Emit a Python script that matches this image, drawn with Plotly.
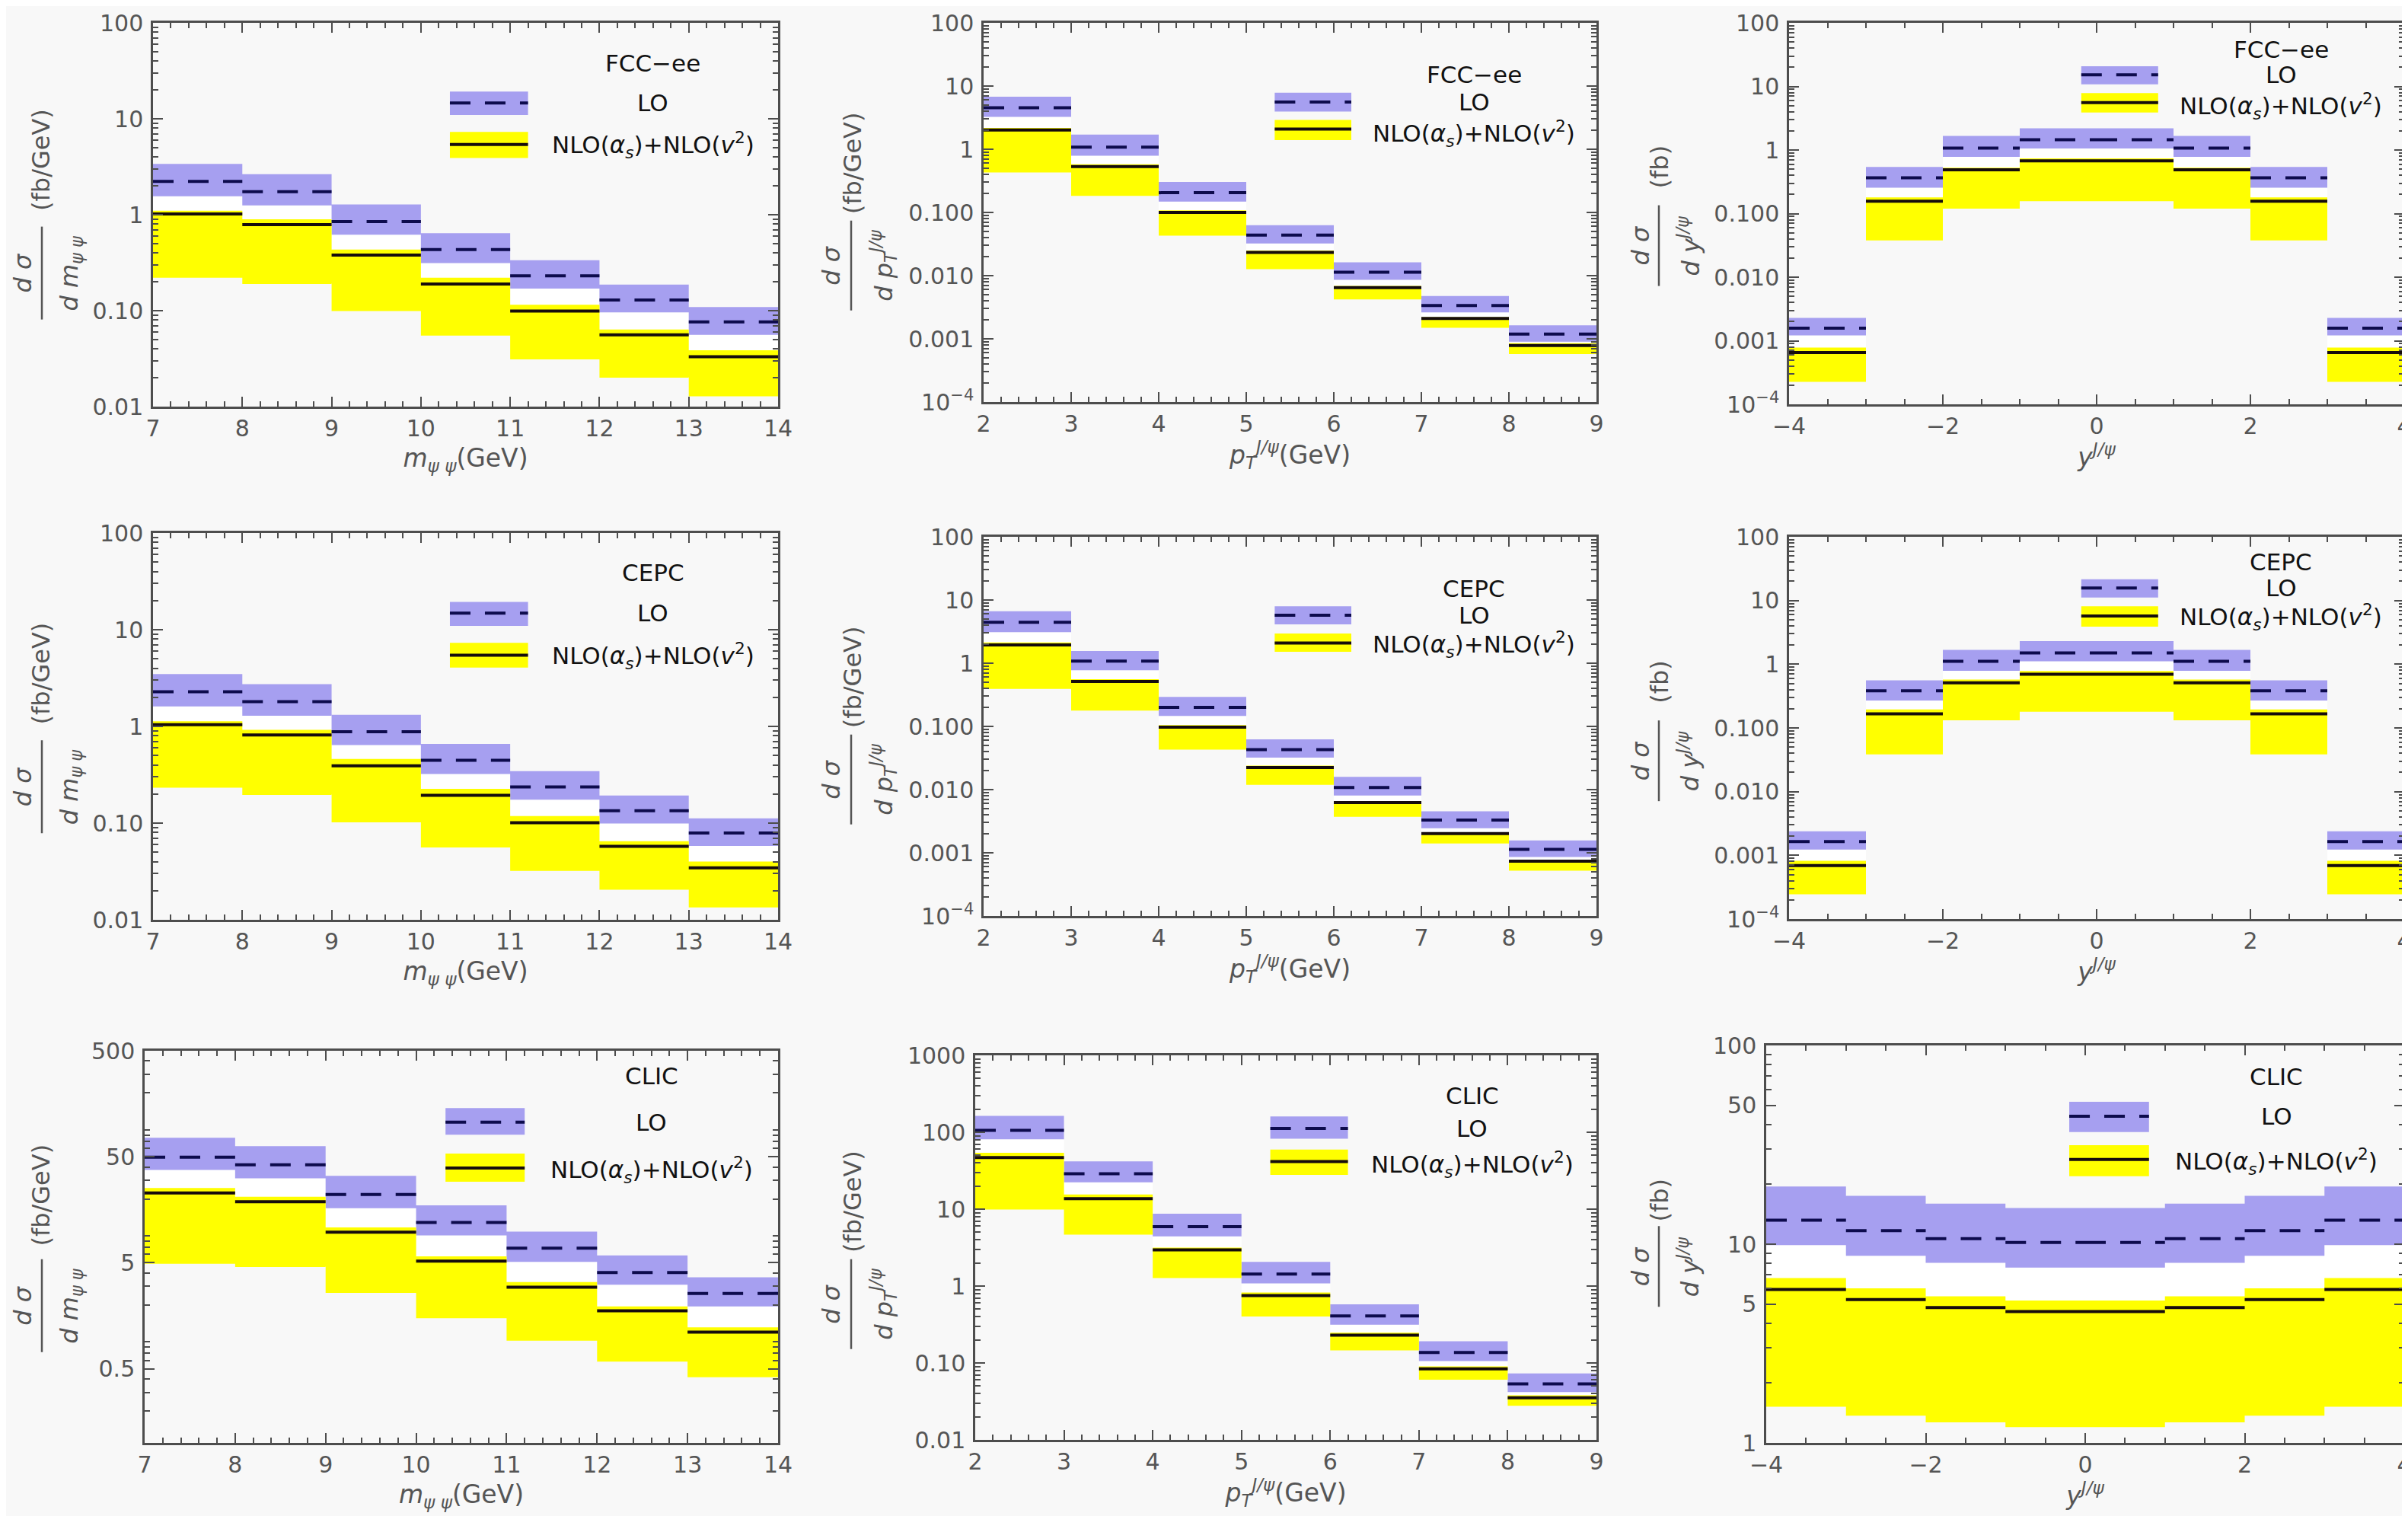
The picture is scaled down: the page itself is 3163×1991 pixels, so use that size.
import numpy as np
import plotly.graph_objects as go

W, H = 3163, 1991

# ---------------- data ----------------
m_edges = [7, 8, 9, 10, 11, 12, 13, 14]
pt_edges = [2, 3, 4, 5, 6, 7, 8, 9]
y_edges = [-4, -3, -2, -1, 0, 1, 2, 3, 4]

# FCC-ee
fcc_m_lo = [2.22, 1.74, 0.85, 0.434, 0.231, 0.129, 0.0763]
fcc_m_lo_hi = [3.39, 2.65, 1.28, 0.642, 0.335, 0.187, 0.109]
fcc_m_lo_lo = [1.56, 1.25, 0.618, 0.313, 0.170, 0.096, 0.056]
fcc_m_nlo = [1.02, 0.789, 0.380, 0.190, 0.0989, 0.056, 0.0331]
fcc_m_nlo_hi = [1.10, 0.897, 0.434, 0.22, 0.115, 0.0635, 0.0387]
fcc_m_nlo_lo = [0.22, 0.190, 0.099, 0.055, 0.031, 0.020, 0.0128]

fcc_pt_lo = [4.52, 1.08, 0.205, 0.0438, 0.01135, 0.00336, 0.00119]
fcc_pt_lo_hi = [6.78, 1.70, 0.303, 0.0628, 0.0163, 0.00477, 0.00164]
fcc_pt_lo_lo = [3.26, 0.79, 0.148, 0.0323, 0.00857, 0.00262, 0.0009]
fcc_pt_nlo = [2.01, 0.532, 0.100, 0.0233, 0.00646, 0.0021, 0.000787]
fcc_pt_nlo_hi = [2.17, 0.58, 0.108, 0.025, 0.0069, 0.0022, 0.00085]
fcc_pt_nlo_lo = [0.43, 0.183, 0.0428, 0.0127, 0.0042, 0.0015, 0.000575]

fcc_y_lo = [0.00158, 0.365, 1.07, 1.45, 1.45, 1.07, 0.365, 0.00158]
fcc_y_lo_hi = [0.00229, 0.54, 1.66, 2.19, 2.19, 1.66, 0.54, 0.00229]
fcc_y_lo_lo = [0.00121, 0.255, 0.78, 1.06, 1.06, 0.78, 0.255, 0.00121]
fcc_y_nlo = [0.00065, 0.157, 0.488, 0.676, 0.676, 0.488, 0.157, 0.00065]
fcc_y_nlo_hi = [0.00078, 0.18, 0.527, 0.74, 0.74, 0.527, 0.18, 0.00078]
fcc_y_nlo_lo = [0.000225, 0.0378, 0.12, 0.157, 0.157, 0.12, 0.0378, 0.000225]

# CEPC
cepc_m_lo = [2.28, 1.80, 0.88, 0.446, 0.237, 0.134, 0.079]
cepc_m_lo_hi = [3.48, 2.73, 1.32, 0.66, 0.345, 0.193, 0.112]
cepc_m_lo_lo = [1.61, 1.29, 0.64, 0.322, 0.175, 0.099, 0.058]
cepc_m_nlo = [1.04, 0.814, 0.392, 0.194, 0.101, 0.0575, 0.0345]
cepc_m_nlo_hi = [1.13, 0.92, 0.46, 0.226, 0.118, 0.065, 0.040]
cepc_m_nlo_lo = [0.232, 0.196, 0.102, 0.056, 0.032, 0.0205, 0.0134]

cepc_pt_lo = [4.45, 1.08, 0.20, 0.0428, 0.0108, 0.00329, 0.00113]
cepc_pt_lo_hi = [6.62, 1.56, 0.294, 0.0622, 0.0159, 0.00455, 0.00157]
cepc_pt_lo_lo = [3.10, 0.774, 0.146, 0.032, 0.00807, 0.00245, 0.00086]
cepc_pt_nlo = [1.95, 0.514, 0.097, 0.0223, 0.00624, 0.00201, 0.000738]
cepc_pt_nlo_hi = [2.13, 0.56, 0.105, 0.024, 0.0066, 0.0021, 0.00078]
cepc_pt_nlo_lo = [0.393, 0.178, 0.0428, 0.0119, 0.0037, 0.0014, 0.00052]

cepc_y_lo = [0.00165, 0.382, 1.11, 1.50, 1.50, 1.11, 0.382, 0.00165]
cepc_y_lo_hi = [0.00239, 0.56, 1.68, 2.30, 2.30, 1.68, 0.56, 0.00239]
cepc_y_lo_lo = [0.00123, 0.27, 0.79, 1.11, 1.11, 0.79, 0.27, 0.00123]
cepc_y_nlo = [0.00069, 0.166, 0.511, 0.698, 0.698, 0.511, 0.166, 0.00069]
cepc_y_nlo_hi = [0.00082, 0.195, 0.574, 0.78, 0.78, 0.574, 0.195, 0.00082]
cepc_y_nlo_lo = [0.000244, 0.0385, 0.132, 0.18, 0.18, 0.132, 0.0385, 0.000244]

# CLIC
clic_m_lo = [49.6, 42.0, 22.0, 12.0, 6.86, 4.05, 2.57]
clic_m_lo_hi = [75.5, 63.0, 33.1, 17.4, 9.86, 5.87, 3.65]
clic_m_lo_lo = [37.5, 31.3, 16.4, 9.06, 5.1, 3.11, 1.94]
clic_m_nlo = [22.8, 18.8, 9.72, 5.18, 2.94, 1.76, 1.11]
clic_m_nlo_hi = [25.4, 21.0, 10.8, 5.75, 3.29, 1.94, 1.23]
clic_m_nlo_lo = [4.9, 4.56, 2.6, 1.5, 0.92, 0.584, 0.417]

clic_pt_lo = [106, 28.9, 5.92, 1.43, 0.409, 0.137, 0.0533]
clic_pt_lo_hi = [163, 41.7, 8.7, 2.06, 0.578, 0.191, 0.0731]
clic_pt_lo_lo = [81, 22.3, 4.43, 1.08, 0.315, 0.106, 0.0419]
clic_pt_nlo = [46.8, 13.7, 2.96, 0.75, 0.23, 0.0837, 0.0352]
clic_pt_nlo_hi = [54, 15.5, 3.17, 0.825, 0.248, 0.0903, 0.038]
clic_pt_nlo_lo = [9.86, 4.66, 1.27, 0.401, 0.146, 0.0604, 0.0277]

clic_y_lo = [13.2, 11.7, 10.65, 10.2, 10.2, 10.65, 11.7, 13.2]
clic_y_lo_hi = [19.5, 17.5, 16.0, 15.2, 15.2, 16.0, 17.5, 19.5]
clic_y_lo_lo = [9.89, 8.75, 8.06, 7.62, 7.62, 8.06, 8.75, 9.89]
clic_y_nlo = [5.92, 5.26, 4.80, 4.58, 4.58, 4.80, 5.26, 5.92]
clic_y_nlo_hi = [6.75, 5.99, 5.46, 5.2, 5.2, 5.46, 5.99, 6.75]
clic_y_nlo_lo = [1.52, 1.37, 1.27, 1.2, 1.2, 1.27, 1.37, 1.52]

# tick labels
ticks_m_top = ([0.01, 0.1, 1, 10, 100], ["0.01", "0.10", "1", "10", "100"])
ticks_pt_top = ([1e-4, 1e-3, 1e-2, 0.1, 1, 10, 100],
                ["10<sup>\u22124</sup>", "0.001", "0.010", "0.100", "1", "10", "100"])
ticks_m_clic = ([0.5, 5, 50, 500], ["0.5", "5", "50", "500"])
ticks_pt_clic = ([0.01, 0.1, 1, 10, 100, 1000], ["0.01", "0.10", "1", "10", "100", "1000"])
ticks_y_clic = ([1, 5, 10, 50, 100], ["1", "5", "10", "50", "100"])
y_xticks = [-4, -2, 0, 2, 4]

colliders = ["FCC\u2212ee", "CEPC", "CLIC"]

# ---------------- style ----------------
LO_FILL = "#a69ff0"
NLO_FILL = "#ffff00"
LO_LINE = "#0d0b4d"
NLO_LINE = "#160c0c"
BG = "#f8f8f8"
AXIS = "#4d4d4d"
TEXT = "#555555"
FONT = "DejaVu Sans, sans-serif"

# panel boxes in pixels: left, top, right, bottom
boxes = {
    (1, 1): (193, 22, 1014, 526), (1, 2): (1284, 22, 2089, 520), (1, 3): (2342, 22, 3150, 523),
    (2, 1): (193, 692, 1014, 1200), (2, 2): (1284, 697, 2089, 1195), (2, 3): (2342, 697, 3150, 1199),
    (3, 1): (182, 1372, 1014, 1887), (3, 2): (1273, 1378, 2089, 1883), (3, 3): (2312, 1365, 3150, 1887),
}

# legend layout, fractions of the plot box from the bottom
legends = {
    (1, 1): dict(title=0.895, lo=(0.760, 0.821, 0.791), nlo=(0.648, 0.716, 0.683), nlo_txt=0.681),
    (1, 2): dict(title=0.863, lo=(0.766, 0.816, 0.791), nlo=(0.691, 0.744, 0.720), nlo_txt=0.707),
    (1, 3): dict(title=0.931, lo=(0.839, 0.886, 0.864), nlo=(0.765, 0.816, 0.791), nlo_txt=0.781),
    (2, 1): dict(title=0.897, lo=(0.760, 0.822, 0.793), nlo=(0.652, 0.716, 0.684), nlo_txt=0.682),
    (2, 2): dict(title=0.863, lo=(0.769, 0.817, 0.793), nlo=(0.697, 0.745, 0.720), nlo_txt=0.715),
    (2, 3): dict(title=0.935, lo=(0.841, 0.889, 0.866), nlo=(0.765, 0.818, 0.793), nlo_txt=0.789),
    (3, 1): dict(title=0.935, lo=(0.786, 0.854, 0.818), nlo=(0.666, 0.738, 0.701), nlo_txt=0.697),
    (3, 2): dict(title=0.896, lo=(0.783, 0.841, 0.810), nlo=(0.689, 0.755, 0.724), nlo_txt=0.716),
    (3, 3): dict(title=0.921, lo=(0.782, 0.858, 0.822), nlo=(0.671, 0.749, 0.713), nlo_txt=0.707),
}

# y-label pieces: x pixel of numerator, bar, unit, denominator; fraction centre / unit centre (from top)
ylab_x = {1: (22, 47, 46, 85), 2: (1084, 1110, 1112, 1152), 3: (2147, 2171, 2172, 2210)}
ylab_bar = {1: 122, 2: 118, 3: 106}
ylab_v = {
    (1, 1): (0.652, 0.357), (2, 1): (0.656, 0.363), (3, 1): (0.65, 0.368),
    (1, 2): (0.64, 0.37), (2, 2): (0.64, 0.37), (3, 2): (0.647, 0.38),
    (1, 3): (0.584, 0.378), (2, 3): (0.586, 0.38), (3, 3): (0.556, 0.39),
}

denoms = {
    1: "<i>d m</i><sub><i>\u03c8 \u03c8</i></sub>",
    2: "<i>d p</i><sub><i>T</i></sub><sup><i>J/\u03c8</i></sup>",
    3: "<i>d y</i><sup><i>J/\u03c8</i></sup>",
}
units = {1: "(fb/GeV)", 2: "(fb/GeV)", 3: "(fb)"}
xtitles = {
    1: "<i>m</i><sub><i>\u03c8 \u03c8</i></sub>(GeV)",
    2: "<i>p</i><sub><i>T</i></sub><sup><i>J/\u03c8</i></sup>(GeV)",
    3: "<i>y</i><sup><i>J/\u03c8</i></sup>",
}

panels = [
    ((1, 1), m_edges, fcc_m_lo, fcc_m_lo_hi, fcc_m_lo_lo, fcc_m_nlo, fcc_m_nlo_hi, fcc_m_nlo_lo, (0.01, 100), ticks_m_top),
    ((1, 2), pt_edges, fcc_pt_lo, fcc_pt_lo_hi, fcc_pt_lo_lo, fcc_pt_nlo, fcc_pt_nlo_hi, fcc_pt_nlo_lo, (1e-4, 100), ticks_pt_top),
    ((1, 3), y_edges, fcc_y_lo, fcc_y_lo_hi, fcc_y_lo_lo, fcc_y_nlo, fcc_y_nlo_hi, fcc_y_nlo_lo, (1e-4, 100), ticks_pt_top),
    ((2, 1), m_edges, cepc_m_lo, cepc_m_lo_hi, cepc_m_lo_lo, cepc_m_nlo, cepc_m_nlo_hi, cepc_m_nlo_lo, (0.01, 100), ticks_m_top),
    ((2, 2), pt_edges, cepc_pt_lo, cepc_pt_lo_hi, cepc_pt_lo_lo, cepc_pt_nlo, cepc_pt_nlo_hi, cepc_pt_nlo_lo, (1e-4, 100), ticks_pt_top),
    ((2, 3), y_edges, cepc_y_lo, cepc_y_lo_hi, cepc_y_lo_lo, cepc_y_nlo, cepc_y_nlo_hi, cepc_y_nlo_lo, (1e-4, 100), ticks_pt_top),
    ((3, 1), m_edges, clic_m_lo, clic_m_lo_hi, clic_m_lo_lo, clic_m_nlo, clic_m_nlo_hi, clic_m_nlo_lo, (0.1, 500), ticks_m_clic),
    ((3, 2), pt_edges, clic_pt_lo, clic_pt_lo_hi, clic_pt_lo_lo, clic_pt_nlo, clic_pt_nlo_hi, clic_pt_nlo_lo, (0.01, 1000), ticks_pt_clic),
    ((3, 3), y_edges, clic_y_lo, clic_y_lo_hi, clic_y_lo_lo, clic_y_nlo, clic_y_nlo_hi, clic_y_nlo_lo, (1, 100), ticks_y_clic),
]


def rects(edges, top, bottom):
    xs, ys = [], []
    for i in range(len(edges) - 1):
        if top[i] <= bottom[i]:
            continue
        xs += [edges[i], edges[i + 1], edges[i + 1], edges[i], edges[i], None]
        ys += [bottom[i], bottom[i], top[i], top[i], bottom[i], None]
    return xs, ys


def steps(edges, vals):
    xs, ys = [], []
    for i in range(len(edges) - 1):
        xs += [edges[i], edges[i + 1], None]
        ys += [vals[i], vals[i], None]
    return xs, ys


def log_minor(lo, hi):
    out = []
    for e in range(int(np.floor(np.log10(lo))), int(np.ceil(np.log10(hi))) + 1):
        for k in range(2, 10):
            v = k * 10.0 ** e
            if lo < v < hi:
                out.append(v)
    return out


fig = go.Figure()
shapes, annotations = [], []

for n, (rc, edges, lo, lo_hi, lo_lo, nlo, nlo_hi, nlo_lo, yr, yt) in enumerate(panels, start=1):
    r, c = rc
    sfx = "" if n == 1 else str(n)
    xa, ya = "x" + sfx, "y" + sfx
    L, T, R, B = boxes[rc]

    # white gap between the two bands
    gx, gy = rects(edges, lo_lo, nlo_hi)
    fig.add_trace(go.Scatter(x=gx, y=gy, fill="toself", fillcolor="#ffffff", mode="none",
                             xaxis=xa, yaxis=ya, showlegend=False, hoverinfo="skip"))
    bx, by = rects(edges, lo_hi, lo_lo)
    fig.add_trace(go.Scatter(x=bx, y=by, fill="toself", fillcolor=LO_FILL, mode="none",
                             xaxis=xa, yaxis=ya, showlegend=False, hoverinfo="skip"))
    bx, by = rects(edges, nlo_hi, nlo_lo)
    fig.add_trace(go.Scatter(x=bx, y=by, fill="toself", fillcolor=NLO_FILL, mode="none",
                             xaxis=xa, yaxis=ya, showlegend=False, hoverinfo="skip"))
    sx, sy = steps(edges, nlo)
    fig.add_trace(go.Scatter(x=sx, y=sy, mode="lines", line=dict(color=NLO_LINE, width=4),
                             xaxis=xa, yaxis=ya, showlegend=False))
    sx, sy = steps(edges, lo)
    fig.add_trace(go.Scatter(x=sx, y=sy, mode="lines",
                             line=dict(color=LO_LINE, width=4, dash="27px,19px"),
                             xaxis=xa, yaxis=ya, showlegend=False))

    if c == 3:
        xticks, xminor = y_xticks, 0.5
    else:
        xticks, xminor = edges, 0.2

    axis_common = dict(showline=True, linecolor=AXIS, linewidth=2.5, mirror="allticks",
                       ticks="inside", ticklen=13, tickwidth=2, tickcolor=AXIS,
                       showgrid=False, zeroline=False, automargin=False,
                       tickfont=dict(family=FONT, size=30, color=TEXT))
    fig.layout[("xaxis" + sfx)] = dict(
        axis_common, domain=[L / W, R / W], anchor=ya, range=[edges[0], edges[-1]],
        tickmode="array", tickvals=xticks, ticktext=[str(v).replace("-", "\u2212") for v in xticks],
        minor=dict(ticks="inside", ticklen=7, tickwidth=1.5, tickcolor=AXIS,
                   dtick=xminor, tick0=edges[0], showgrid=False),
        title=dict(text=xtitles[c], font=dict(family=FONT, size=33, color=TEXT), standoff=12),
    )
    fig.layout[("yaxis" + sfx)] = dict(
        axis_common, domain=[1 - B / H, 1 - T / H], anchor=xa, type="log",
        range=[np.log10(yr[0]), np.log10(yr[1])],
        tickmode="array", tickvals=yt[0], ticktext=yt[1], ticklabelstandoff=4,
        minor=dict(ticks="inside", ticklen=7, tickwidth=1.5, tickcolor=AXIS,
                   tickmode="array", tickvals=log_minor(yr[0], yr[1]), showgrid=False),
    )

    # legend block drawn inside the panel
    lg = legends[rc]
    xd, yd = xa + " domain", ya + " domain"
    shapes.append(dict(type="rect", xref=xd, yref=yd, x0=0.475, x1=0.600,
                       y0=lg["lo"][0], y1=lg["lo"][1], fillcolor=LO_FILL, line=dict(width=0)))
    shapes.append(dict(type="line", xref=xd, yref=yd, x0=0.475, x1=0.600,
                       y0=lg["lo"][2], y1=lg["lo"][2], line=dict(color=LO_LINE, width=4, dash="27px,19px")))
    shapes.append(dict(type="rect", xref=xd, yref=yd, x0=0.475, x1=0.600,
                       y0=lg["nlo"][0], y1=lg["nlo"][1], fillcolor=NLO_FILL, line=dict(width=0)))
    shapes.append(dict(type="line", xref=xd, yref=yd, x0=0.475, x1=0.600,
                       y0=lg["nlo"][2], y1=lg["nlo"][2], line=dict(color=NLO_LINE, width=4)))
    lfont = dict(family=FONT, size=31, color="#111111")
    annotations.append(dict(xref=xd, yref=yd, x=0.80, y=lg["title"], text=colliders[r - 1],
                            showarrow=False, font=lfont, xanchor="center", yanchor="middle"))
    annotations.append(dict(xref=xd, yref=yd, x=0.80, y=lg["lo"][2], text="LO",
                            showarrow=False, font=lfont, xanchor="center", yanchor="middle"))
    annotations.append(dict(xref=xd, yref=yd, x=0.80, y=lg["nlo_txt"],
                            text="NLO(<i>\u03b1</i><sub><i>s</i></sub>)+NLO(<i>v</i><sup>2</sup>)",
                            showarrow=False, font=lfont, xanchor="center", yanchor="middle"))

    # rotated fraction y-label
    xn, xb, xu, xden = ylab_x[c]
    fc, uc = ylab_v[rc]
    yc = T + fc * (B - T)
    yu = T + uc * (B - T)
    yfont = dict(family=FONT, size=32, color=TEXT)
    annotations.append(dict(xref="paper", yref="paper", x=xn / W, y=1 - yc / H,
                            text="<i>d \u03c3</i>", textangle=-90, showarrow=False, font=yfont,
                            xanchor="center", yanchor="middle"))
    annotations.append(dict(xref="paper", yref="paper", x=xden / W, y=1 - yc / H,
                            text=denoms[c], textangle=-90, showarrow=False, font=yfont,
                            xanchor="center", yanchor="middle"))
    annotations.append(dict(xref="paper", yref="paper", x=xu / W, y=1 - yu / H,
                            text=units[c], textangle=-90, showarrow=False, font=yfont,
                            xanchor="center", yanchor="middle"))
    half = ylab_bar[c] / 2
    shapes.append(dict(type="line", xref="paper", yref="paper", x0=xb / W, x1=xb / W,
                       y0=1 - (yc - half) / H, y1=1 - (yc + half) / H,
                       line=dict(color=TEXT, width=2.5)))

fig.update_layout(
    width=W, height=H,
    margin=dict(l=0, r=0, t=0, b=0),
    paper_bgcolor=BG, plot_bgcolor=BG,
    showlegend=False,
    shapes=shapes, annotations=annotations,
    font=dict(family=FONT, color=TEXT),
)

fig.write_html("out.html")
